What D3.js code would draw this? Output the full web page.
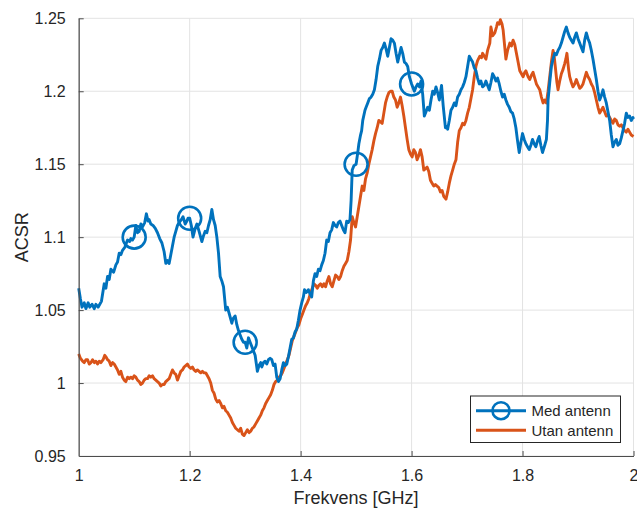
<!DOCTYPE html>
<html>
<head>
<meta charset="utf-8">
<script src="https://cdn.jsdelivr.net/npm/d3@7"></script>
<style>
  html, body { margin: 0; padding: 0; background: #fff; }
  #plot { width: 637px; height: 509px; }
  text { font-family: "Liberation Sans", Arial, Helvetica, sans-serif; fill: #262626; }
</style>
</head>
<body>
<div id="plot"></div>
<script>
// ACSR vs frequency, with / without antenna
const xTicks = [1, 1.2, 1.4, 1.6, 1.8, 2];
const yTicks = [0.95, 1, 1.05, 1.1, 1.15, 1.2, 1.25];
const markerFreqs = [1.1, 1.2, 1.3, 1.5, 1.6];
const seriesNames = ['Med antenn', 'Utan antenn'];

// [frequency GHz, ACSR]
const medAntenn = [
  [1.000,1.065],[1.003,1.058],[1.006,1.052],[1.010,1.055],[1.013,1.051],[1.017,1.055],[1.020,1.052],[1.024,1.054],
  [1.028,1.051],[1.031,1.054],[1.035,1.052],[1.038,1.054],[1.041,1.056],[1.046,1.068],[1.049,1.065],[1.052,1.073],
  [1.055,1.071],[1.058,1.078],[1.063,1.076],[1.067,1.081],[1.070,1.083],[1.073,1.089],[1.076,1.088],[1.079,1.091],
  [1.083,1.093],[1.088,1.098],[1.092,1.097],[1.094,1.099],[1.097,1.098],[1.100,1.100],[1.103,1.108],[1.106,1.103],
  [1.109,1.104],[1.112,1.109],[1.115,1.107],[1.119,1.110],[1.122,1.116],[1.125,1.111],[1.127,1.112],[1.130,1.109],
  [1.134,1.108],[1.138,1.106],[1.142,1.103],[1.146,1.099],[1.150,1.096],[1.154,1.090],[1.157,1.082],[1.160,1.084],
  [1.163,1.082],[1.166,1.088],[1.169,1.094],[1.172,1.100],[1.175,1.104],[1.178,1.108],[1.181,1.110],[1.185,1.112],
  [1.188,1.114],[1.192,1.109],[1.195,1.111],[1.197,1.113],[1.200,1.113],[1.203,1.108],[1.206,1.100],[1.210,1.106],
  [1.213,1.109],[1.217,1.104],[1.222,1.097],[1.225,1.101],[1.228,1.104],[1.231,1.103],[1.234,1.108],[1.237,1.112],
  [1.240,1.119],[1.243,1.112],[1.246,1.108],[1.249,1.100],[1.252,1.089],[1.255,1.073],[1.258,1.070],[1.261,1.066],
  [1.263,1.058],[1.265,1.050],[1.268,1.052],[1.271,1.048],[1.276,1.041],[1.278,1.044],[1.282,1.046],[1.285,1.040],
  [1.288,1.036],[1.291,1.033],[1.294,1.030],[1.297,1.028],[1.300,1.028],[1.303,1.024],[1.306,1.031],[1.309,1.028],
  [1.312,1.025],[1.315,1.022],[1.318,1.019],[1.321,1.011],[1.322,1.008],[1.325,1.012],[1.328,1.014],[1.330,1.011],
  [1.333,1.014],[1.336,1.015],[1.339,1.013],[1.342,1.016],[1.345,1.017],[1.348,1.016],[1.351,1.012],[1.354,1.013],
  [1.357,1.004],[1.360,1.001],[1.363,1.003],[1.366,1.009],[1.369,1.014],[1.372,1.012],[1.375,1.013],[1.378,1.018],
  [1.381,1.024],[1.384,1.030],[1.387,1.031],[1.390,1.035],[1.393,1.037],[1.396,1.043],[1.399,1.050],[1.402,1.055],
  [1.405,1.059],[1.407,1.064],[1.410,1.062],[1.414,1.064],[1.417,1.061],[1.420,1.059],[1.423,1.070],[1.426,1.075],
  [1.429,1.073],[1.432,1.078],[1.435,1.077],[1.438,1.081],[1.441,1.084],[1.444,1.089],[1.447,1.098],[1.450,1.097],
  [1.453,1.103],[1.456,1.105],[1.459,1.110],[1.462,1.108],[1.465,1.107],[1.468,1.110],[1.471,1.111],[1.474,1.108],
  [1.477,1.105],[1.480,1.103],[1.483,1.111],[1.486,1.110],[1.489,1.112],[1.491,1.125],[1.493,1.146],[1.496,1.149],
  [1.500,1.150],[1.503,1.158],[1.505,1.164],[1.508,1.170],[1.510,1.173],[1.512,1.180],[1.516,1.187],[1.518,1.189],
  [1.521,1.192],[1.524,1.195],[1.527,1.196],[1.530,1.198],[1.533,1.201],[1.536,1.208],[1.539,1.217],[1.542,1.222],
  [1.545,1.228],[1.548,1.230],[1.551,1.233],[1.554,1.229],[1.557,1.224],[1.560,1.230],[1.563,1.236],[1.566,1.235],
  [1.569,1.233],[1.572,1.226],[1.575,1.220],[1.578,1.225],[1.581,1.230],[1.584,1.226],[1.587,1.220],[1.590,1.219],
  [1.593,1.217],[1.596,1.210],[1.600,1.205],[1.602,1.203],[1.605,1.200],[1.608,1.203],[1.611,1.205],[1.614,1.203],
  [1.617,1.207],[1.620,1.198],[1.623,1.183],[1.626,1.186],[1.629,1.189],[1.632,1.187],[1.635,1.194],[1.638,1.200],
  [1.641,1.198],[1.644,1.203],[1.647,1.199],[1.650,1.194],[1.652,1.199],[1.654,1.204],[1.657,1.190],[1.661,1.175],
  [1.663,1.176],[1.665,1.174],[1.668,1.180],[1.671,1.187],[1.674,1.189],[1.677,1.192],[1.680,1.190],[1.683,1.196],
  [1.686,1.198],[1.689,1.201],[1.692,1.203],[1.695,1.206],[1.698,1.210],[1.701,1.217],[1.704,1.224],[1.707,1.222],
  [1.710,1.220],[1.713,1.216],[1.716,1.214],[1.719,1.209],[1.722,1.205],[1.725,1.207],[1.728,1.203],[1.731,1.204],
  [1.734,1.207],[1.737,1.204],[1.740,1.201],[1.743,1.206],[1.746,1.212],[1.749,1.210],[1.752,1.207],[1.755,1.209],
  [1.758,1.205],[1.761,1.200],[1.764,1.196],[1.767,1.198],[1.770,1.194],[1.773,1.191],[1.776,1.189],[1.779,1.186],
  [1.782,1.185],[1.785,1.181],[1.788,1.175],[1.791,1.166],[1.794,1.158],[1.797,1.165],[1.800,1.171],[1.803,1.167],
  [1.806,1.164],[1.809,1.162],[1.812,1.160],[1.815,1.163],[1.818,1.167],[1.821,1.164],[1.824,1.162],[1.827,1.166],
  [1.830,1.169],[1.833,1.163],[1.836,1.158],[1.840,1.163],[1.843,1.167],[1.845,1.180],[1.846,1.194],[1.849,1.206],
  [1.852,1.217],[1.855,1.222],[1.858,1.226],[1.861,1.225],[1.864,1.228],[1.867,1.230],[1.870,1.233],[1.873,1.237],
  [1.876,1.241],[1.879,1.244],[1.882,1.240],[1.885,1.237],[1.888,1.235],[1.891,1.233],[1.894,1.237],[1.897,1.240],
  [1.900,1.236],[1.903,1.233],[1.906,1.230],[1.909,1.227],[1.912,1.235],[1.915,1.240],[1.918,1.236],[1.921,1.233],
  [1.924,1.228],[1.927,1.222],[1.930,1.215],[1.933,1.208],[1.936,1.200],[1.939,1.194],[1.942,1.197],[1.945,1.201],
  [1.948,1.196],[1.951,1.192],[1.954,1.186],[1.957,1.180],[1.960,1.170],[1.963,1.162],[1.966,1.165],[1.969,1.167],
  [1.972,1.163],[1.975,1.164],[1.978,1.168],[1.981,1.173],[1.984,1.178],[1.987,1.185],[1.990,1.182],[1.993,1.183],
  [1.996,1.180],[1.999,1.182],[2.000,1.181]
];

const utanAntenn = [
  [1.000,1.020],[1.003,1.017],[1.007,1.015],[1.010,1.014],[1.013,1.016],[1.016,1.016],[1.019,1.013],[1.022,1.014],
  [1.025,1.016],[1.028,1.014],[1.031,1.015],[1.034,1.013],[1.037,1.015],[1.040,1.014],[1.044,1.016],[1.047,1.019],
  [1.049,1.018],[1.052,1.016],[1.055,1.015],[1.058,1.012],[1.061,1.014],[1.064,1.013],[1.067,1.011],[1.070,1.009],
  [1.073,1.006],[1.076,1.008],[1.079,1.004],[1.082,1.002],[1.085,1.001],[1.088,1.004],[1.091,1.003],[1.094,1.004],
  [1.097,1.003],[1.100,1.005],[1.103,1.004],[1.106,1.002],[1.109,1.001],[1.112,0.999],[1.115,1.000],[1.118,1.002],
  [1.121,1.003],[1.124,1.003],[1.127,1.005],[1.130,1.004],[1.133,1.005],[1.136,1.003],[1.139,1.002],[1.142,1.001],
  [1.145,1.000],[1.148,0.998],[1.151,0.999],[1.154,0.999],[1.157,1.001],[1.160,1.002],[1.163,1.003],[1.166,1.006],
  [1.169,1.009],[1.172,1.007],[1.175,1.006],[1.178,1.002],[1.181,1.005],[1.184,1.008],[1.187,1.009],[1.190,1.011],
  [1.193,1.012],[1.196,1.013],[1.199,1.011],[1.202,1.010],[1.205,1.011],[1.208,1.009],[1.211,1.008],[1.214,1.009],
  [1.217,1.008],[1.220,1.007],[1.223,1.008],[1.226,1.007],[1.229,1.007],[1.232,1.005],[1.235,1.003],[1.238,1.000],
  [1.241,0.995],[1.244,0.993],[1.247,0.989],[1.250,0.987],[1.253,0.988],[1.256,0.986],[1.259,0.983],[1.262,0.984],
  [1.265,0.981],[1.268,0.980],[1.271,0.978],[1.274,0.976],[1.277,0.973],[1.280,0.971],[1.283,0.969],[1.286,0.968],
  [1.289,0.967],[1.292,0.969],[1.295,0.965],[1.298,0.964],[1.301,0.966],[1.304,0.968],[1.307,0.966],[1.310,0.967],
  [1.313,0.969],[1.316,0.970],[1.319,0.972],[1.322,0.974],[1.325,0.976],[1.328,0.978],[1.331,0.981],[1.334,0.983],
  [1.337,0.986],[1.340,0.988],[1.343,0.990],[1.346,0.992],[1.349,0.995],[1.352,0.999],[1.355,1.001],[1.358,1.002],
  [1.361,1.004],[1.364,1.005],[1.367,1.007],[1.370,1.010],[1.373,1.013],[1.376,1.016],[1.379,1.019],[1.382,1.024],
  [1.385,1.029],[1.388,1.032],[1.391,1.035],[1.394,1.038],[1.397,1.040],[1.400,1.044],[1.403,1.047],[1.406,1.050],
  [1.409,1.053],[1.412,1.055],[1.415,1.058],[1.418,1.062],[1.421,1.065],[1.424,1.068],[1.427,1.067],[1.430,1.065],
  [1.433,1.067],[1.436,1.068],[1.439,1.066],[1.442,1.068],[1.445,1.066],[1.448,1.070],[1.451,1.073],[1.454,1.068],
  [1.457,1.066],[1.460,1.070],[1.463,1.074],[1.466,1.073],[1.469,1.071],[1.472,1.073],[1.475,1.077],[1.478,1.080],
  [1.481,1.082],[1.484,1.084],[1.487,1.090],[1.490,1.098],[1.493,1.114],[1.496,1.110],[1.499,1.107],[1.502,1.114],
  [1.505,1.121],[1.508,1.128],[1.511,1.135],[1.514,1.132],[1.517,1.140],[1.520,1.144],[1.523,1.150],[1.526,1.155],
  [1.529,1.160],[1.532,1.166],[1.535,1.171],[1.538,1.175],[1.541,1.180],[1.544,1.179],[1.547,1.178],[1.550,1.185],
  [1.553,1.192],[1.556,1.196],[1.559,1.199],[1.562,1.200],[1.565,1.200],[1.568,1.196],[1.571,1.194],[1.574,1.189],
  [1.577,1.192],[1.580,1.196],[1.583,1.190],[1.586,1.183],[1.589,1.175],[1.592,1.167],[1.595,1.160],[1.598,1.157],
  [1.601,1.155],[1.604,1.160],[1.607,1.158],[1.610,1.153],[1.613,1.156],[1.616,1.160],[1.619,1.155],[1.622,1.146],
  [1.625,1.147],[1.628,1.148],[1.631,1.145],[1.634,1.139],[1.637,1.137],[1.640,1.135],[1.643,1.136],[1.646,1.135],
  [1.649,1.134],[1.652,1.131],[1.655,1.132],[1.658,1.128],[1.662,1.126],[1.665,1.131],[1.668,1.137],[1.671,1.142],
  [1.674,1.146],[1.677,1.150],[1.680,1.153],[1.683,1.165],[1.686,1.173],[1.689,1.175],[1.692,1.178],[1.695,1.177],
  [1.698,1.180],[1.701,1.185],[1.704,1.189],[1.707,1.195],[1.710,1.201],[1.713,1.210],[1.716,1.217],[1.719,1.221],
  [1.723,1.224],[1.726,1.223],[1.728,1.226],[1.731,1.224],[1.734,1.222],[1.737,1.228],[1.741,1.233],[1.743,1.244],
  [1.746,1.238],[1.750,1.240],[1.753,1.244],[1.755,1.247],[1.758,1.246],[1.760,1.249],[1.763,1.246],[1.765,1.242],
  [1.768,1.230],[1.770,1.222],[1.773,1.228],[1.777,1.233],[1.780,1.231],[1.783,1.235],[1.786,1.232],[1.788,1.228],
  [1.792,1.220],[1.795,1.214],[1.798,1.212],[1.801,1.210],[1.804,1.213],[1.806,1.214],[1.810,1.210],[1.813,1.208],
  [1.816,1.211],[1.819,1.213],[1.822,1.209],[1.825,1.205],[1.828,1.203],[1.831,1.201],[1.834,1.196],[1.837,1.192],
  [1.840,1.194],[1.843,1.192],[1.846,1.200],[1.849,1.210],[1.852,1.220],[1.855,1.228],[1.857,1.224],[1.859,1.217],
  [1.862,1.206],[1.864,1.201],[1.867,1.207],[1.870,1.212],[1.873,1.215],[1.876,1.219],[1.878,1.222],[1.880,1.226],
  [1.883,1.215],[1.885,1.210],[1.888,1.206],[1.891,1.203],[1.894,1.205],[1.897,1.208],[1.900,1.205],[1.903,1.202],
  [1.906,1.203],[1.909,1.205],[1.912,1.209],[1.915,1.213],[1.918,1.210],[1.921,1.208],[1.924,1.205],[1.927,1.203],
  [1.930,1.199],[1.933,1.194],[1.936,1.189],[1.939,1.185],[1.942,1.187],[1.945,1.189],[1.948,1.186],[1.951,1.183],
  [1.954,1.184],[1.957,1.182],[1.960,1.180],[1.963,1.178],[1.966,1.181],[1.969,1.180],[1.972,1.177],[1.975,1.176],
  [1.978,1.177],[1.981,1.175],[1.984,1.173],[1.987,1.172],[1.990,1.174],[1.993,1.172],[1.996,1.170],[2.000,1.169]
];

const W = 637, H = 509;
const margin = { top: 18.3, right: 3.5, bottom: 53, left: 78.7 };
const blue = '#0072BD', orange = '#D95319';

const svg = d3.select('#plot').append('svg').attr('width', W).attr('height', H);

const x = d3.scaleLinear().domain([1, 2]).range([margin.left, W - margin.right]);
const y = d3.scaleLinear().domain([0.95, 1.25]).range([H - margin.bottom, margin.top]);

// grid
const grid = svg.append('g').attr('stroke', '#e3e3e3').attr('stroke-width', 1);
grid.selectAll('.gx').data(xTicks).enter().append('line')
  .attr('x1', (d) => x(d)).attr('x2', (d) => x(d)).attr('y1', y(0.95)).attr('y2', y(1.25));
grid.selectAll('.gy').data(yTicks).enter().append('line')
  .attr('x1', x(1)).attr('x2', x(2)).attr('y1', (d) => y(d)).attr('y2', (d) => y(d));

// series
const line = d3.line().x((d) => x(d[0])).y((d) => y(d[1]));
svg.append('path').datum(utanAntenn).attr('d', line).attr('fill', 'none')
  .attr('stroke', orange).attr('stroke-width', 2.9).attr('stroke-linejoin', 'round');
svg.append('path').datum(medAntenn).attr('d', line).attr('fill', 'none')
  .attr('stroke', blue).attr('stroke-width', 2.9).attr('stroke-linejoin', 'round');

const markerPts = medAntenn.filter((d) => markerFreqs.some((f) => Math.abs(f - d[0]) < 1e-9));
svg.append('g').selectAll('circle').data(markerPts).enter().append('circle')
  .attr('cx', (d) => x(d[0])).attr('cy', (d) => y(d[1])).attr('r', 11.5)
  .attr('fill', 'none').attr('stroke', blue).attr('stroke-width', 2.6);

// axes
const xAxis = d3.axisBottom(x).tickValues(xTicks).tickSizeInner(-5).tickSizeOuter(0).tickPadding(14)
  .tickFormat(d3.format('~g'));
const gx = svg.append('g').attr('transform', `translate(0,${y(0.95)})`).call(xAxis);
const yAxis = d3.axisLeft(y).tickValues(yTicks).tickSizeInner(-5).tickSizeOuter(0).tickPadding(13)
  .tickFormat(d3.format('~g'));
const gy = svg.append('g').attr('transform', `translate(${x(1)},0)`).call(yAxis);
[gx, gy].forEach((g) => {
  g.select('.domain').attr('stroke', '#4d4d4d').attr('stroke-width', 1.2);
  g.selectAll('.tick line').attr('stroke', '#4d4d4d').attr('stroke-width', 1);
  g.selectAll('.tick text').attr('fill', '#262626').style('font-size', '16px')
    .style('font-family', '"Liberation Sans", Arial, sans-serif');
});
gx.select('.tick:first-of-type line').remove();
gy.select('.tick:first-of-type line').remove();

// labels
svg.append('text').attr('x', x(1.5)).attr('y', 504).attr('text-anchor', 'middle')
  .style('font-size', '18px').text('Frekvens [GHz]');
svg.append('text').attr('transform', `translate(28,${y(1.1)}) rotate(-90)`).attr('text-anchor', 'middle')
  .style('font-size', '18px').text('ACSR');

// legend
const lg = svg.append('g').attr('transform', 'translate(470.5,396)');
lg.append('rect').attr('width', 150).attr('height', 46.5).attr('fill', '#fff')
  .attr('stroke', '#262626').attr('stroke-width', 1);
const legendColors = [blue, orange];
seriesNames.forEach((name, i) => {
  const ly = 14.7 + i * 19.6;
  lg.append('line').attr('x1', 5.5).attr('x2', 55.5).attr('y1', ly).attr('y2', ly)
    .attr('stroke', legendColors[i]).attr('stroke-width', 2.9);
  if (i === 0) {
    lg.append('circle').attr('cx', 30.5).attr('cy', ly).attr('r', 8.5)
      .attr('fill', 'none').attr('stroke', blue).attr('stroke-width', 2.6);
  }
  lg.append('text').attr('x', 61).attr('y', ly).attr('dy', '0.36em')
    .style('font-size', '15px').text(name);
});
</script>
</body>
</html>
